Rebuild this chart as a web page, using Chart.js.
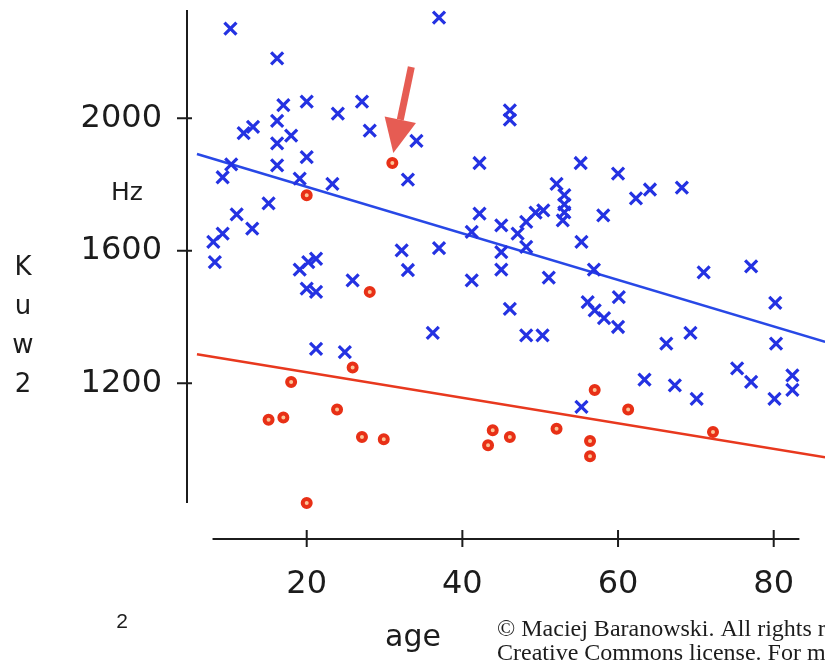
<!DOCTYPE html>
<html>
<head>
<meta charset="utf-8">
<script src="https://cdn.jsdelivr.net/npm/chart.js@4/dist/chart.umd.min.js"></script>
<style>
  html, body { margin: 0; padding: 0; background: #fff; }
  #wrap { width: 825px; height: 660px; }
</style>
</head>
<body>
<div id="wrap"><canvas id="myChart" width="825" height="660"></canvas></div>
<script>
// male speakers (blue x) : age, Kuw2 frequency in Hz
const blueAge = [10.2, 16.2, 17.0, 20.0, 24.0, 27.1, 28.1, 13.1, 11.9, 16.2, 18.0, 16.2, 20.0, 10.3, 16.2,
  9.2, 19.1, 23.3, 15.1, 11.0, 33.0, 37.0, 34.1, 42.2, 46.1, 46.1, 55.2, 60.0, 52.1, 53.1,
  53.1, 53.1, 52.9, 42.2, 49.4, 50.4, 58.1, 62.3, 64.1, 68.2, 71.0, 77.1, 80.2, 60.1, 58.2,
  13.0, 9.2, 8.0, 8.2, 19.1, 20.2, 21.2, 20.0, 21.2, 25.9, 32.2, 33.0, 21.2, 24.9, 48.2,
  45.0, 47.1, 41.2, 37.0, 45.0, 48.2, 55.3, 45.0, 41.2, 51.1, 56.9, 46.1, 56.1, 57.0, 60.0,
  36.2, 48.2, 50.3, 55.3, 66.2, 69.3, 80.3, 75.3, 77.1, 63.4, 67.3, 70.1, 82.4, 82.4, 80.1];
const blueHz = [2271, 2181, 2040, 2050, 2014, 2050, 1963, 1974, 1955, 1992, 1948, 1924, 1883, 1861, 1858,
  1822, 1818, 1802, 1743, 1710, 1815, 2304, 1932, 1865, 2024, 1996, 1865, 1833, 1802, 1768,
  1740, 1716, 1692, 1712, 1715, 1722, 1707, 1758, 1785, 1791, 1535, 1553, 1443, 1460, 1397,
  1667, 1652, 1627, 1566, 1543, 1566, 1576, 1486, 1476, 1511, 1601, 1542, 1304, 1294, 1687,
  1677, 1652, 1657, 1608, 1596, 1612, 1627, 1543, 1511, 1519, 1543, 1425, 1445, 1420, 1370,
  1352, 1345, 1345, 1129, 1320, 1352, 1320, 1245, 1204, 1211, 1194, 1153, 1224, 1180, 1153];

// female speakers (red o)
const redAge = [31.0, 20.0, 28.1, 25.9, 18.0, 15.1, 17.0, 23.9, 27.1, 29.9, 20.0, 57.0, 43.9, 43.3, 46.1,
  52.1, 56.4, 56.4, 61.3, 72.2];
const redHz = [1865, 1768, 1476, 1248, 1204, 1090, 1097, 1121, 1038, 1031, 839, 1180, 1058, 1013, 1038,
  1063, 1026, 980, 1121, 1053];

// regression lines (end points)
const fitAge = [5.9, 86.6];
const blueFit = [1892, 1325];
const redFit = [1288, 977];

const xTicks = [20, 40, 60, 80];
const yTicks = [1200, 1600, 2000];

const toXY = (xs, ys) => xs.map((x, i) => ({ x: x, y: ys[i] }));

const BLUE = "rgb(36, 50, 226)";
const RED = "rgb(232, 48, 22)";
const INK = "#1c1c1c";

const annotations = {
  id: "annotations",
  afterDraw(chart) {
    const c = chart.ctx;
    const xs = chart.scales.x, ys = chart.scales.y;
    const area = chart.chartArea;
    c.save();
    c.strokeStyle = INK;
    c.lineWidth = 2;
    // detached axis lines
    const axX = area.left, axY = area.bottom;
    c.beginPath();
    c.moveTo(axX, ys.getPixelForValue(2327));
    c.lineTo(axX, ys.getPixelForValue(839));
    c.moveTo(xs.getPixelForValue(7.9), axY);
    c.lineTo(xs.getPixelForValue(83.3), axY);
    yTicks.forEach(v => {
      const py = ys.getPixelForValue(v);
      c.moveTo(axX - 10, py);
      c.lineTo(axX + 5, py);
    });
    xTicks.forEach(v => {
      const px = xs.getPixelForValue(v);
      c.moveTo(px, axY - 9);
      c.lineTo(px, axY + 8);
    });
    c.stroke();

    // texts
    c.fillStyle = INK;
    c.textAlign = "center";
    c.textBaseline = "middle";
    c.font = "25px 'DejaVu Sans'";
    c.fillText("Hz", 127, 193);
    c.font = "26px 'DejaVu Sans'";
    ["K", "u", "w", "2"].forEach((ch, i) => c.fillText(ch, 23, 268 + i * 39));
    c.font = "30px 'DejaVu Sans'";
    c.fillText("age", 413, 638);
    c.font = "21px 'Liberation Sans'";
    c.fillText("2", 122, 622);
    c.textAlign = "left";
    c.textBaseline = "alphabetic";
    c.font = "24px 'Liberation Serif'";
    c.fillText("\u00A9 Maciej Baranowski. All rights reserved. This content is excluded from our", 497, 636);
    c.fillText("Creative Commons license. For more information, see https://ocw.mit.edu/help/faq-fair-use/", 497, 660);

    // arrow pointing at the highlighted female speaker
    const p = chart.getDatasetMeta(1).data[0];
    const tip = { x: p.x + 1, y: p.y - 10 };
    const tail = { x: p.x + 19, y: p.y - 96 };
    const dx = tip.x - tail.x, dy = tip.y - tail.y;
    const len = Math.hypot(dx, dy);
    const ux = dx / len, uy = dy / len;
    const headLen = 34, headHalf = 16;
    const bx = tip.x - ux * headLen, by = tip.y - uy * headLen;
    c.strokeStyle = "rgba(228, 78, 68, 0.92)";
    c.fillStyle = "rgba(228, 78, 68, 0.92)";
    c.lineWidth = 7;
    c.lineCap = "butt";
    c.beginPath();
    c.moveTo(tail.x, tail.y);
    c.lineTo(bx, by);
    c.stroke();
    c.beginPath();
    c.moveTo(tip.x, tip.y);
    c.lineTo(bx - uy * headHalf, by + ux * headHalf);
    c.lineTo(bx + uy * headHalf, by - ux * headHalf);
    c.closePath();
    c.fill();
    c.restore();
  }
};

const whiteBg = {
  id: "whiteBg",
  beforeDraw(chart) {
    const c = chart.ctx;
    c.save();
    c.fillStyle = "#ffffff";
    c.fillRect(0, 0, chart.width, chart.height);
    c.restore();
  }
};

const noPad = (axis) => {
  axis.paddingTop = 0;
  axis.paddingBottom = 0;
  axis.paddingLeft = 0;
  axis.paddingRight = 0;
};

const ctx = document.getElementById("myChart").getContext("2d");

const data = {
  datasets: [
    {
      label: "male",
      data: toXY(blueAge, blueHz),
      pointStyle: "crossRot",
      pointRadius: 8.5,
      pointBorderWidth: 3.2,
      borderColor: BLUE,
      backgroundColor: BLUE,
      showLine: false,
    },
    {
      label: "female",
      data: toXY(redAge, redHz),
      pointStyle: "circle",
      pointRadius: 4,
      pointBorderWidth: 4,
      borderColor: RED,
      backgroundColor: "rgb(252, 196, 150)",
      showLine: false,
    },
    {
      label: "male fit",
      data: toXY(fitAge, blueFit),
      showLine: true,
      pointRadius: 0,
      borderWidth: 2.5,
      borderColor: "rgb(40, 72, 230)",
    },
    {
      label: "female fit",
      data: toXY(fitAge, redFit),
      showLine: true,
      pointRadius: 0,
      borderWidth: 2.5,
      borderColor: "rgb(232, 56, 30)",
    },
  ],
};

const config = {
  type: "scatter",
  data: data,
  options: {
    responsive: false,
    animation: false,
    layout: { padding: 0, autoPadding: false },
    plugins: {
      legend: { display: false },
      tooltip: { enabled: false },
    },
    scales: {
      x: {
        type: "linear",
        min: 4.62,
        max: 86.59,
        grid: { display: false, drawTicks: false },
        border: { display: false },
        afterBuildTicks: (axis) => { axis.ticks = xTicks.map(v => ({ value: v })); },
        afterFit: (axis) => { axis.height = 121; noPad(axis); },
        ticks: {
          padding: 26,
          color: INK,
          font: { family: "DejaVu Sans", size: 32 },
          callback: (v) => String(v),
        },
      },
      y: {
        type: "linear",
        min: 730,
        max: 2357.1,
        grid: { display: false, drawTicks: false },
        border: { display: false },
        afterBuildTicks: (axis) => { axis.ticks = yTicks.map(v => ({ value: v })); },
        afterFit: (axis) => { axis.width = 187; noPad(axis); },
        ticks: {
          padding: 25,
          color: INK,
          font: { family: "DejaVu Sans", size: 32 },
          callback: (v) => String(v),
        },
      },
    },
  },
  plugins: [whiteBg, annotations],
};

const myChart = new Chart(ctx, config);
</script>
</body>
</html>
